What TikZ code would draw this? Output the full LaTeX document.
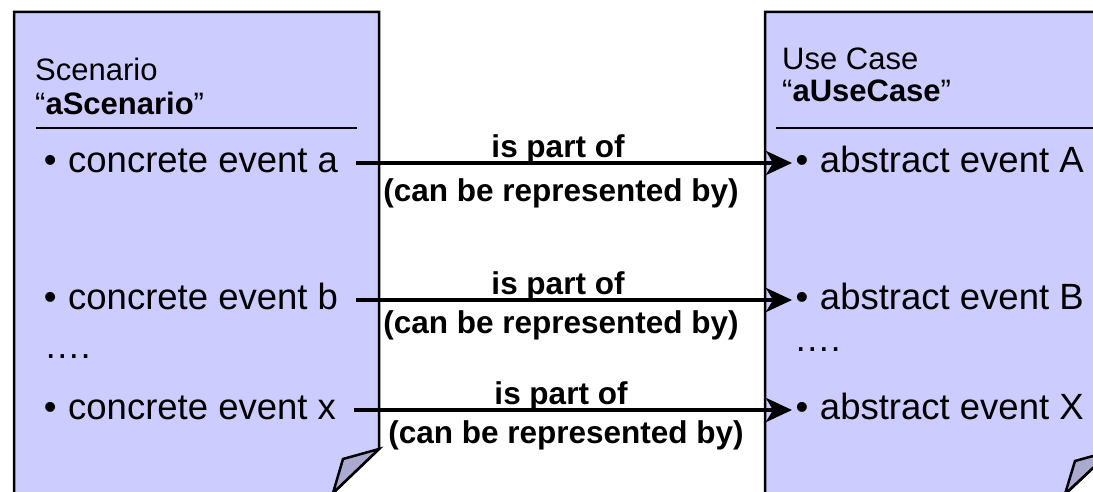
\documentclass[tikz,border=0pt]{standalone}
\usepackage{fontspec}
\setmainfont{Liberation Sans}
\usepackage{tikz}
\usetikzlibrary{calc,arrows.meta}
\definecolor{pagefill}{RGB}{204,204,255}
\definecolor{foldfill}{RGB}{170,170,208}

\begin{document}
\begin{tikzpicture}[x=1pt,y=-1pt,
    every node/.style={inner sep=0pt,text height=18pt,text depth=0pt},
    page/.style={draw=black,line width=2.5pt,fill=pagefill,line join=miter},
    fold/.style={draw=black,line width=2.5pt,fill=foldfill,line join=miter},
    head/.style={anchor=base west,font=\fontsize{31}{34}\selectfont},
    item/.style={anchor=base west,font=\fontsize{36.5}{40}\selectfont},
    rel/.style={-{Stealth[length=26pt,width=24pt,inset=7pt]},line width=4pt},
    relname/.style={anchor=base,font=\bfseries\fontsize{31.5}{34}\selectfont}]

    \useasboundingbox (0,0) rectangle (1093,492);
    \clip (0,0) rectangle (1093,492);

    % Scenario sheet with folded corner
    \draw[page] (14,500) -- (14,12) -- (379,12) -- (379,449) -- (325.7,500) -- cycle;
    \draw[fold] (379,449) -- (343,459) -- (333,493) -- cycle;
    \draw[line width=2.5pt] (36,128) -- (357,128);

    % Use case sheet, runs past the right border
    \draw[page] (765,500) -- (765,12) -- (1111,12) -- (1111,451) -- (1059,500) -- cycle;
    \draw[fold] (1111,451) -- (1075,461) -- (1065,494) -- cycle;
    \draw[line width=2.5pt] (776,128) -- (1100,128);

    % headings
    \node[head] (scen) at (35,81) {Scenario};
    \node[head] (scenname) at ($(scen.base west)+(0,34)$) {“\textbf{aScenario}”};
    \node[head] (ucase) at (782,70) {Use Case};
    \node[head] (ucasename) at ($(ucase.base west)+(0,32)$) {“\textbf{aUseCase}”};

    % events of the scenario
    \node[item,inner xsep=18pt] (cea) at (25.7,172) {•\hspace{11.5pt}concrete event a};
    \node[item,inner xsep=18pt] (ceb) at (25.7,309) {•\hspace{11.5pt}concrete event b};
    \node[item] (cdots) at (44,358) {….};
    \node[item,inner xsep=18pt] (cex) at (25.7,419) {•\hspace{11.5pt}concrete event x};

    % events of the use case
    \node[item,inner xsep=3.5pt] (aea) at (792,172) {•\hspace{11.5pt}abstract event A};
    \node[item,inner xsep=3.5pt] (aeb) at (792,309) {•\hspace{11.5pt}abstract event B};
    \node[item] (adots) at (794,351) {….};
    \node[item,inner xsep=3.5pt] (aex) at (792,419) {•\hspace{11.5pt}abstract event X};

    % relations
    \draw[rel] (cea.east) -- (aea.west);
    \node[relname] (parta) at (558,158) {is part of};
    \node[relname] (repra) at (561,201) {(can be represented by)};

    \draw[rel] (ceb.east) -- (aeb.west);
    \node[relname] (partb) at (558,294) {is part of};
    \node[relname] (reprb) at (561,333) {(can be represented by)};

    \draw[rel] (cex.east) -- (aex.west);
    \node[relname] (partx) at (561,404) {is part of};
    \node[relname] (reprx) at (566,443) {(can be represented by)};

\end{tikzpicture}
\end{document}
